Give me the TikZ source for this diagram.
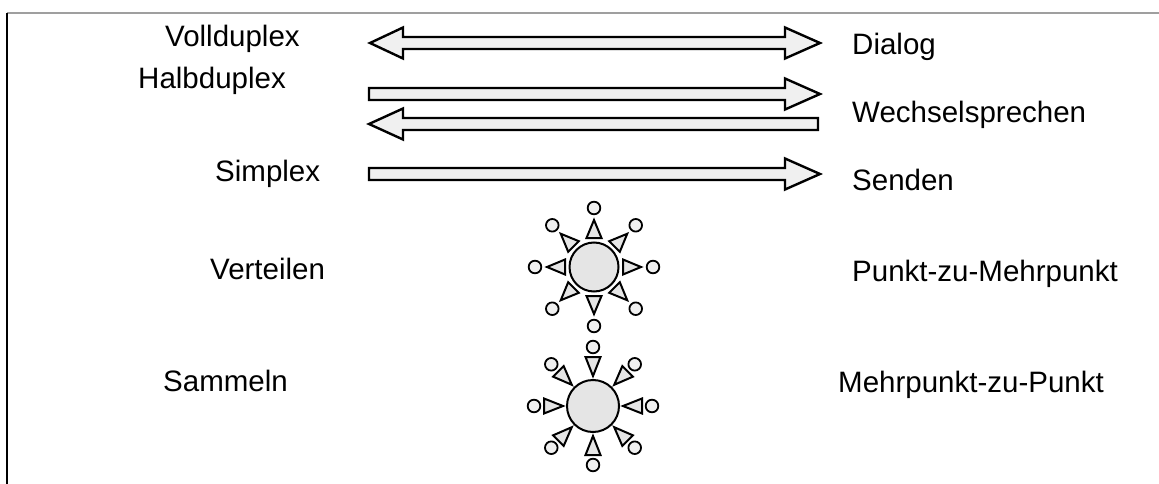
\documentclass[tikz,border=0pt]{standalone}
\usepackage{fontspec}
\setmainfont{Liberation Sans}
\begin{document}
\begin{tikzpicture}[x=1pt,y=-1pt,
  lbl/.style={anchor=base west,inner sep=0pt,font=\fontsize{29.5}{34}\selectfont},
  bigarrow/.style={draw=black,line width=2.4pt,fill=gray!12,line join=miter},
  tri/.style={draw=black,line width=2pt,fill=gray!20,line join=miter},
  dotc/.style={draw=black,line width=1.8pt,fill=gray!12},
  hub/.style={circle,draw=black,line width=2pt,fill=gray!20,inner sep=0pt}]
\useasboundingbox (0,0) rectangle (1159,484);
% frame
\draw[gray!75,line width=1.4pt] (7,13) -- (1159,13);
\draw[black,line width=1.2pt] (7,13) -- (7,484);
% left labels
\node[lbl] (vd) at (165,47) {Vollduplex};
\node[lbl] (hd) at (138,89) {Halbduplex};
\node[lbl] (sx) at (215,181) {Simplex};
\node[lbl] (vt) at (210,279) {Verteilen};
\node[lbl] (sm) at (163,391) {Sammeln};
% right labels
\node[lbl] (dl) at (852,55) {Dialog};
\node[lbl] (ws) at (852,123) {Wechselsprechen};
\node[lbl] (sd) at (852,190) {Senden};
\node[lbl] (pm) at (852,281) {Punkt-zu-Mehrpunkt};
\node[lbl] (mp) at (838,392) {Mehrpunkt-zu-Punkt};
% Vollduplex double arrow
\draw[bigarrow] (370,43) -- (403,27.5) -- (403,37) -- (785,37) -- (785,27.5) -- (820,43)
  -- (785,58.5) -- (785,49) -- (403,49) -- (403,58.5) -- cycle;
% Halbduplex arrows
\draw[bigarrow] (369,88) -- (785,88) -- (785,78.5) -- (820,94) -- (785,109.5) -- (785,100) -- (369,100) -- cycle;
\draw[bigarrow] (818,118) -- (403,118) -- (403,108.5) -- (369,124) -- (403,139.5) -- (403,130) -- (818,130) -- cycle;
% Simplex arrow
\draw[bigarrow] (369,168) -- (785,168) -- (785,158.5) -- (820,174) -- (785,189.5) -- (785,180) -- (369,180) -- cycle;
% Verteilen star
\node[hub,minimum size=49pt] (h1) at (594,267) {};
\foreach \a in {0,45,...,315}{
  \draw[tri,shift={(594,267)},rotate=\a] (29,-7.5) -- (47,0) -- (29,7.5) -- cycle;
  \draw[dotc,shift={(594,267)},rotate=\a] (59,0) circle[radius=6.3];
}
% Sammeln star
\node[hub,minimum size=52pt] (h2) at (593,406) {};
\foreach \a in {0,45,...,315}{
  \draw[tri,shift={(593,406)},rotate=\a] (49,-7.5) -- (30,0) -- (49,7.5) -- cycle;
  \draw[dotc,shift={(593,406)},rotate=\a] (59,0) circle[radius=6.3];
}
\end{tikzpicture}
\end{document}
